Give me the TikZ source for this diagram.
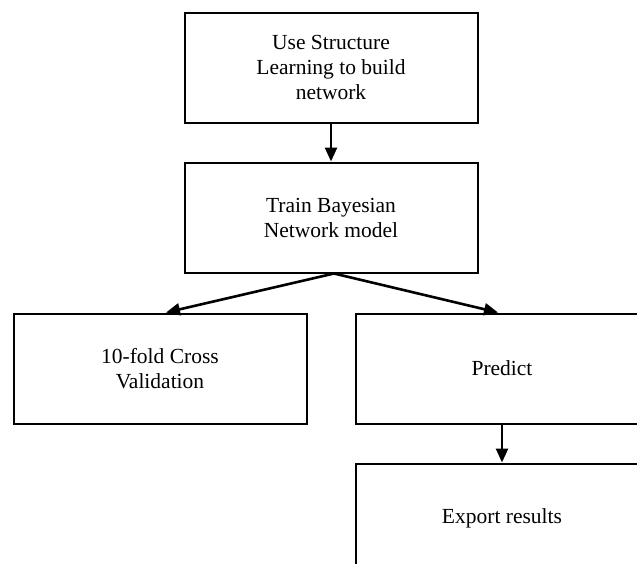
\documentclass[tikz,border=0pt]{standalone}
\usepackage{fontspec}
\setmainfont{Liberation Serif}
\usetikzlibrary{arrows.meta,positioning}

\tikzset{
	stepbox/.style={draw,line width=2pt,minimum width=293pt,minimum height=110pt,
		align=center,inner sep=0pt,font=\fontsize{21.5}{25}\selectfont},
	flow/.style={-{Triangle[length=14pt,width=12pt]},line width=2.6pt}
}

\begin{document}
\begin{tikzpicture}[x=1pt,y=1pt]
				\useasboundingbox (0,0) rectangle (637,-563);
				\clip (0,0) rectangle (637,-563);
				\node[stepbox] (learn) at (331,-67.5) {Use Structure\\Learning to build\\network};
				\node[stepbox, below=38pt of learn] (train) {Train Bayesian\\Network model};
				\node[stepbox, below=39pt of train, xshift=-171pt] (cv) {10-fold Cross\\Validation};
				\node[stepbox, below=39pt of train, xshift=171pt] (predict) {Predict};
				\node[stepbox, below=38pt of predict] (export) {Export results};
				\draw[flow] (learn.south)--(train.north);
				\draw[flow] ([xshift=3pt]train.south)--([xshift=6pt]cv.north);
				\draw[flow] ([xshift=3pt]train.south)--([xshift=-4pt]predict.north);
				\draw[flow] (predict.south)--(export.north);
				\end{tikzpicture}
\end{document}
